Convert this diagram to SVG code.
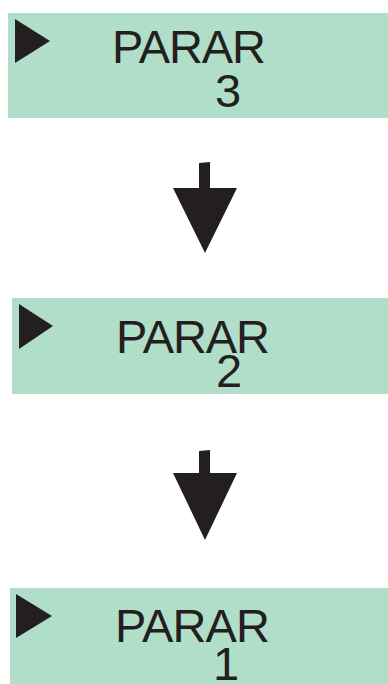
<svg xmlns="http://www.w3.org/2000/svg" width="388" height="684" viewBox="0 0 388 684">
<style>
.box{fill:#b1dec9}
.tri{fill:#231f20}
.t{font-family:"Liberation Sans",Arial,sans-serif;font-size:47px;fill:#231f20}
</style>
<rect width="388" height="684" fill="#fff"/>
<g id="node1">
<rect class="box" x="8" y="13" width="380" height="105"/>
<polygon class="tri" points="15,19 50,41 15,63"/>
<text class="t" x="112" y="63" textLength="154">PARAR</text>
<text class="t" x="215" y="107">3</text>
</g>
<g id="node2">
<rect class="box" x="12" y="298" width="376" height="96"/>
<polygon class="tri" points="19,304 53,326 19,349"/>
<text class="t" x="116" y="353" textLength="154">PARAR</text>
<text class="t" x="216" y="387">2</text>
</g>
<g id="node3">
<rect class="box" x="10" y="588" width="378" height="96"/>
<polygon class="tri" points="16,594 52,616 16,638"/>
<text class="t" x="115" y="642" textLength="155">PARAR</text>
<text class="t" x="213" y="680">1</text>
</g>
<g id="connectors">
<polygon class="tri" points="199,163 210,162 210,188 237,188 205,253 173,188 199,188"/>
<polygon class="tri" points="199,451 210,450 210,473 237,473 205,540 173,473 199,473"/>
</g>
</svg>
